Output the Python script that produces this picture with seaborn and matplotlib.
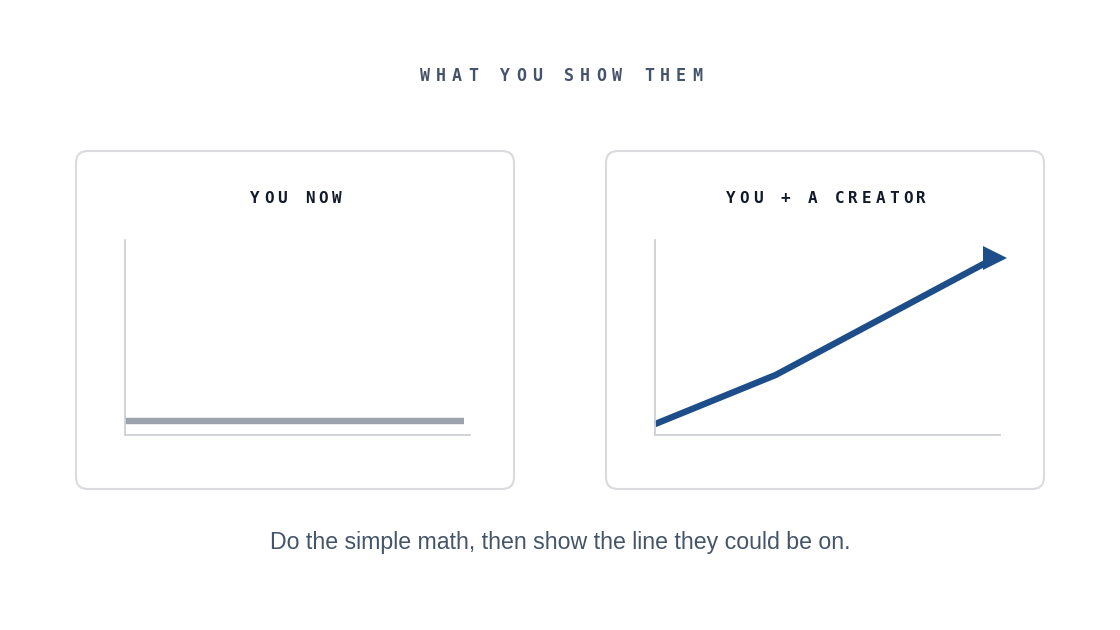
import numpy as np
import pandas as pd
import matplotlib
matplotlib.use("Agg")
import matplotlib.pyplot as plt
import seaborn as sns
from matplotlib.patches import FancyBboxPatch

# ---- data ----
title_main = "WHAT YOU SHOW THEM"
panel_titles = ["YOU NOW", "YOU + A CREATOR"]
subtitle = "Do the simple math, then show the line they could be on."

now_x = [0, 98.3]
now_y = [7.2, 7.2]

creator_x = [0, 35, 98.5]
creator_y = [5.6, 30.8, 90.8]

# ---- style ----
sns.set_theme(style="white")
plt.rcParams["font.family"] = ["DejaVu Sans"]

W, H = 1120, 630
fig = plt.figure(figsize=(W / 100, H / 100), dpi=100)
fig.patch.set_facecolor("white")

canvas = fig.add_axes([0, 0, 1, 1], zorder=0)
canvas.set_xlim(0, W)
canvas.set_ylim(H, 0)
canvas.axis("off")


def spaced_text(ax, s, cx, y, pitch, **kw):
    n = len(s)
    for i, ch in enumerate(s):
        if ch == " ":
            continue
        ax.text(cx + (i - (n - 1) / 2) * pitch, y, ch, ha="center", va="center", **kw)


mono = "DejaVu Sans Mono"
spaced_text(canvas, title_main, 561, 76, 16.0, fontsize=12, family=mono,
            fontweight="bold", color="#44546a")

cards = [(76, 151, 438, 338), (606, 151, 438, 338)]
for (x0, y0, w, h), t in zip(cards, panel_titles):
    canvas.add_patch(FancyBboxPatch((x0, y0), w, h,
                                    boxstyle="round,pad=0,rounding_size=12",
                                    facecolor="white", edgecolor="#d9dbde", linewidth=1.5))
    spaced_text(canvas, t, x0 + w / 2 + 1, 198.5, 13.6, fontsize=11.5, family=mono,
                fontweight="bold", color="#111a2b")

canvas.text(560, 542, subtitle, ha="center", va="center", fontsize=16.7,
            family="Liberation Sans", color="#44546a")


def make_axes(left_px):
    ax = fig.add_axes([left_px / W, (H - 435) / H, 345 / W, 195 / H], zorder=2)
    ax.set_xlim(0, 100)
    ax.set_ylim(0, 100)
    ax.patch.set_alpha(0)
    for side in ["top", "right"]:
        ax.spines[side].set_visible(False)
    for side in ["left", "bottom"]:
        ax.spines[side].set_color("#cdd1d6")
        ax.spines[side].set_linewidth(1.3)
    ax.set_xticks([])
    ax.set_yticks([])
    return ax


ax1 = make_axes(125)
sns.lineplot(x=now_x, y=now_y, ax=ax1, color="#9ca3af", linewidth=4.6,
             solid_capstyle="butt", clip_on=False)
ax1.set_xlabel("")
ax1.set_ylabel("")

ax2 = make_axes(655)
sns.lineplot(x=creator_x, y=creator_y, ax=ax2, color="#1d4e89", linewidth=4.6,
             solid_capstyle="butt", solid_joinstyle="round", clip_on=False,
             marker=">", markevery=[len(creator_x) - 1], markersize=17,
             markeredgewidth=0)
ax2.set_xlabel("")
ax2.set_ylabel("")

fig.savefig("out.png", dpi=100, facecolor="white")
